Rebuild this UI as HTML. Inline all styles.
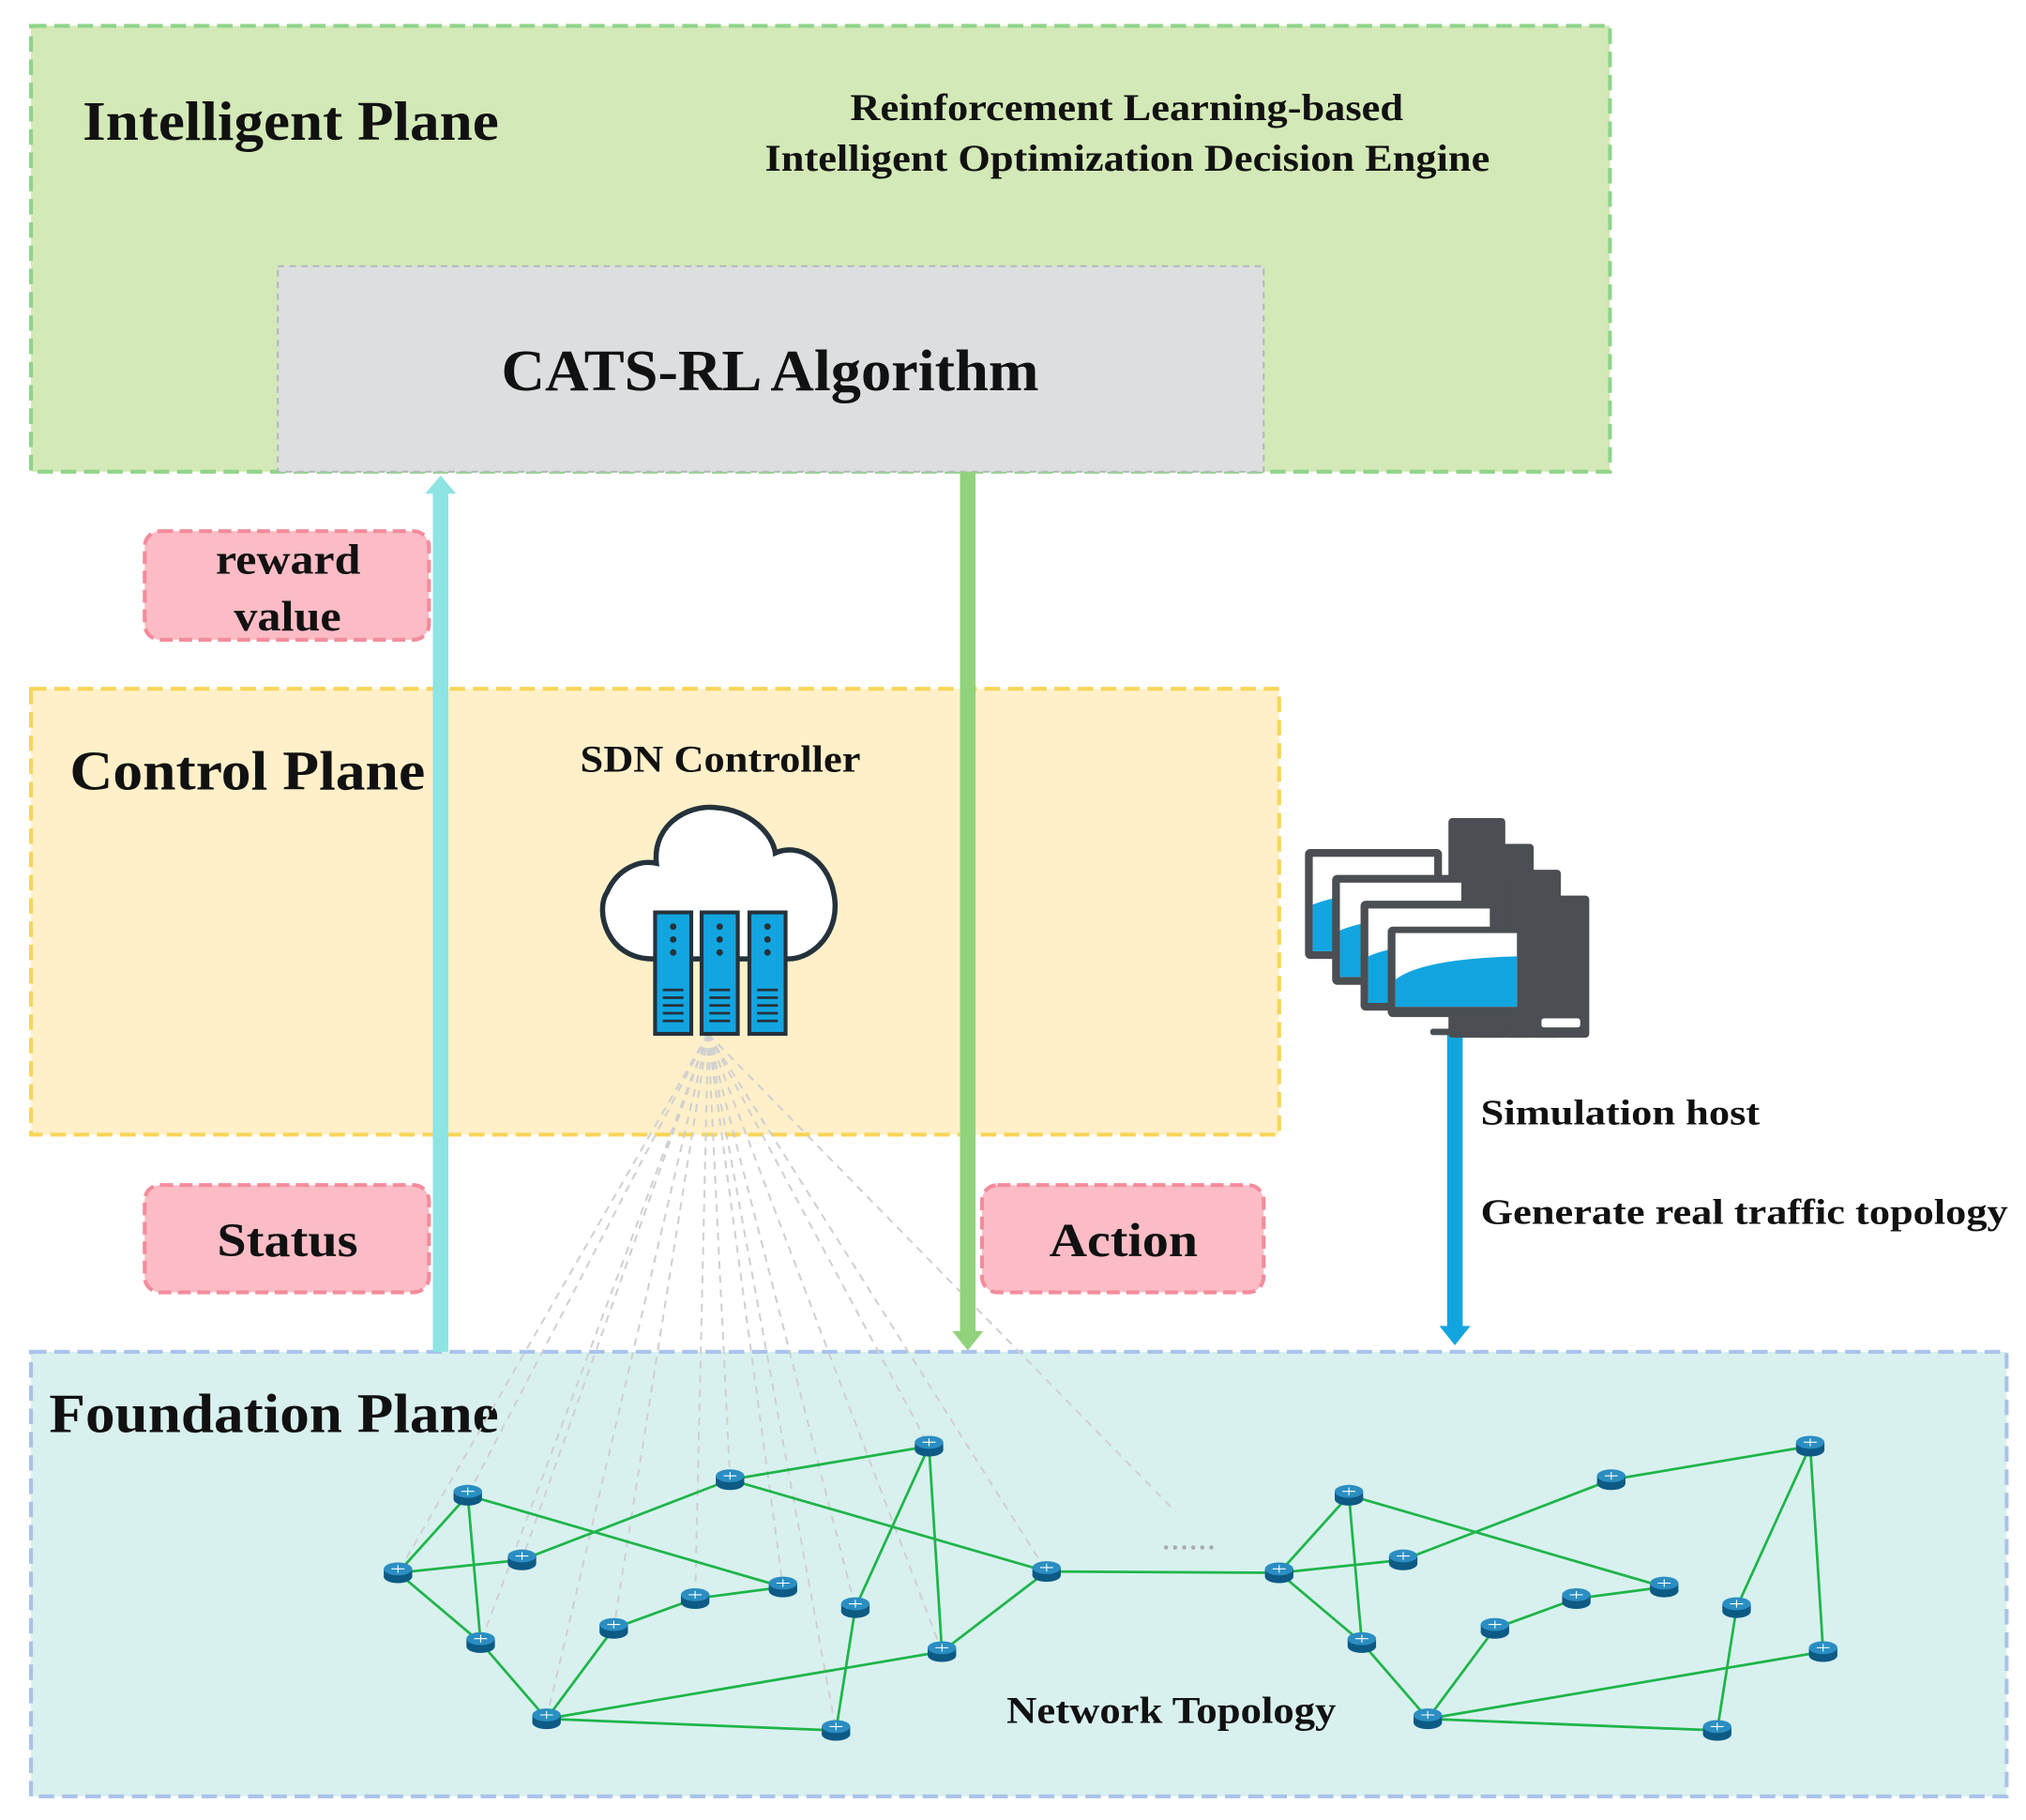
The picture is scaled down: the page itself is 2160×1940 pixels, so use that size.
<!DOCTYPE html>
<html><head><meta charset="utf-8"><style>
html,body{margin:0;padding:0;background:#fff;}
svg{display:block;}
text{font-family:"Liberation Serif",serif;font-weight:bold;fill:#111;}
</style></head><body>
<svg width="2160" height="1940" viewBox="0 0 1568 1408.3" xmlns="http://www.w3.org/2000/svg">
<defs>
<g id="rt"><ellipse cx="0" cy="3" rx="11" ry="5" fill="#0d5a85"/><rect x="-11" y="-3" width="22" height="6" fill="#0d5a85"/><ellipse cx="0" cy="-3" rx="11" ry="5" fill="#2b8ec2"/><path d="M-5,-3 h10 M0,-6 v6" stroke="#fff" stroke-width="0.8"/></g>
</defs>
<rect x="24" y="20" width="1222" height="345" fill="#d3e9b7" stroke="#8fd48a" stroke-width="3" stroke-dasharray="12,6"/>
<rect x="215" y="206" width="763" height="159" fill="#dcdee0" stroke="#b5b8bb" stroke-width="1.5" stroke-dasharray="5,4"/>
<text x="64" y="108" font-size="43" textLength="322" lengthAdjust="spacingAndGlyphs">Intelligent Plane</text>
<text x="658" y="93" font-size="29" textLength="428" lengthAdjust="spacingAndGlyphs">Reinforcement Learning-based</text>
<text x="592" y="132" font-size="29" textLength="561" lengthAdjust="spacingAndGlyphs">Intelligent Optimization Decision Engine</text>
<text x="388" y="302" font-size="45" textLength="416" lengthAdjust="spacingAndGlyphs">CATS-RL Algorithm</text>
<rect x="24" y="533" width="966" height="345" fill="#fff0c9" stroke="#f8d558" stroke-width="3" stroke-dasharray="12,6"/>
<text x="54" y="611" font-size="43" textLength="275" lengthAdjust="spacingAndGlyphs">Control Plane</text>
<text x="449" y="597" font-size="29" textLength="217" lengthAdjust="spacingAndGlyphs">SDN Controller</text>
<rect x="24" y="1046" width="1529" height="344" fill="#d8f1ef" stroke="#a9c3ea" stroke-width="3" stroke-dasharray="12,6"/>
<text x="38" y="1108" font-size="43" textLength="348" lengthAdjust="spacingAndGlyphs">Foundation Plane</text>
<text x="779" y="1333" font-size="29" textLength="255" lengthAdjust="spacingAndGlyphs">Network Topology</text>
<g stroke="#d0d0d0" stroke-width="1.5" stroke-dasharray="6,5" fill="none">
<path d="M548,800 L308,1217 M548,800 L362,1157 M548,800 L404,1207 M548,800 L372,1271 M548,800 L475,1260 M548,800 L423,1330 M548,800 L565,1145 M548,800 L538,1237 M548,800 L606,1228 M548,800 L662,1244 M548,800 L719,1119 M548,800 L729,1278 M548,800 L647,1339 M548,800 L810,1216 M548,800 L910,1170"/>
</g>
<text x="900" y="1199" font-size="20" style="fill:#aaa;letter-spacing:2px">......</text>
<rect x="335" y="380" width="12" height="666" fill="#8ee4e2"/>
<path d="M329,382 L341,368 L353,382 z" fill="#8ee4e2"/>
<rect x="743" y="365" width="12" height="668" fill="#92d27c"/>
<path d="M737,1030 L749,1045 L761,1030 z" fill="#92d27c"/>
<rect x="1120" y="800" width="12" height="228" fill="#12a5e0"/>
<path d="M1114,1026 L1126,1041 L1138,1026 z" fill="#12a5e0"/>
<g fill="#fbbcc5" stroke="#f38c9c" stroke-width="3" stroke-dasharray="10,5">
<rect x="112" y="411" width="220" height="84" rx="12"/>
<rect x="112" y="917" width="220" height="83" rx="12"/>
<rect x="760" y="917" width="218" height="83" rx="12"/>
</g>
<text x="167" y="444" font-size="33" textLength="112" lengthAdjust="spacingAndGlyphs">reward</text>
<text x="181" y="488" font-size="33" textLength="83" lengthAdjust="spacingAndGlyphs">value</text>
<text x="168" y="972" font-size="37" textLength="109" lengthAdjust="spacingAndGlyphs">Status</text>
<text x="812" y="972" font-size="37" textLength="115" lengthAdjust="spacingAndGlyphs">Action</text>
<text x="1146" y="870" font-size="28" textLength="216" lengthAdjust="spacingAndGlyphs">Simulation host</text>
<text x="1146" y="947" font-size="28" textLength="408" lengthAdjust="spacingAndGlyphs">Generate real traffic topology</text>
<path d="M505,742 C470,742 460,705 470,690 C478,672 495,665 508,668 C505,640 530,622 555,625 C580,627 598,645 600,660 C618,652 640,665 645,690 C652,720 630,742 610,742 Z" fill="#fff" stroke="#25323b" stroke-width="4"/>
<g stroke="#25323b" stroke-width="3" fill="#12a5e0">
<rect x="507" y="706" width="28" height="94"/><rect x="543" y="706" width="28" height="94"/><rect x="580" y="706" width="28" height="94"/>
</g>
<g fill="#25323b">
<circle cx="521" cy="717" r="2.5"/><circle cx="521" cy="727" r="2.5"/><circle cx="521" cy="737" r="2.5"/>
<circle cx="557" cy="717" r="2.5"/><circle cx="557" cy="727" r="2.5"/><circle cx="557" cy="737" r="2.5"/>
<circle cx="594" cy="717" r="2.5"/><circle cx="594" cy="727" r="2.5"/><circle cx="594" cy="737" r="2.5"/>
<rect x="513" y="765" width="16" height="2"/><rect x="513" y="771" width="16" height="2"/><rect x="513" y="777" width="16" height="2"/><rect x="513" y="783" width="16" height="2"/><rect x="513" y="789" width="16" height="2"/>
<rect x="549" y="765" width="16" height="2"/><rect x="549" y="771" width="16" height="2"/><rect x="549" y="777" width="16" height="2"/><rect x="549" y="783" width="16" height="2"/><rect x="549" y="789" width="16" height="2"/>
<rect x="586" y="765" width="16" height="2"/><rect x="586" y="771" width="16" height="2"/><rect x="586" y="777" width="16" height="2"/><rect x="586" y="783" width="16" height="2"/><rect x="586" y="789" width="16" height="2"/>
</g>
<g fill="#4b4e52">
<rect x="1121" y="633" width="44" height="170" rx="3"/>
<rect x="1143" y="653" width="44" height="150" rx="3"/>
<rect x="1165" y="673" width="43" height="130" rx="3"/>
<rect x="1186" y="693" width="44" height="110" rx="3"/>
</g>
<rect x="1193" y="788" width="30" height="7" rx="2" fill="#fff"/>
<g>
<rect x="1010" y="657" width="106" height="85" rx="4" fill="#4b4e52"/><rect x="1016" y="663" width="94" height="73" fill="#fff"/><path d="M1016,700 Q1040,690 1110,686 V736 H1016Z" fill="#12a5e0"/>
<rect x="1031" y="677" width="106" height="85" rx="4" fill="#4b4e52"/><rect x="1037" y="683" width="94" height="73" fill="#fff"/><path d="M1037,720 Q1060,710 1131,706 V756 H1037Z" fill="#12a5e0"/>
<rect x="1053" y="697" width="106" height="85" rx="4" fill="#4b4e52"/><rect x="1059" y="703" width="94" height="73" fill="#fff"/><path d="M1059,740 Q1080,730 1153,726 V776 H1059Z" fill="#12a5e0"/>
<rect x="1074" y="717" width="106" height="70" rx="4" fill="#4b4e52"/><rect x="1080" y="722" width="94" height="57" fill="#fff"/><path d="M1080,758 Q1100,742 1174,740 V779 H1080Z" fill="#12a5e0"/>
<rect x="1125" y="787" width="6" height="11" fill="#4b4e52"/><rect x="1107" y="796" width="42" height="5" rx="2" fill="#4b4e52"/>
</g>
<g stroke="#1fb54a" stroke-width="2" fill="none">
<path d="M308,1217 L362,1157 M308,1217 L404,1207 M308,1217 L372,1271 M362,1157 L372,1271 M362,1157 L606,1228 M404,1207 L565,1145 M372,1271 L423,1330 M475,1260 L423,1330 M475,1260 L538,1237 M538,1237 L606,1228 M423,1330 L729,1278 M423,1330 L647,1339 M647,1339 L662,1244 M662,1244 L719,1119 M719,1119 L729,1278 M565,1145 L810,1216 M565,1145 L719,1119 M810,1216 L729,1278 M810,1216 L990,1217"/>
<path transform="translate(682,0)" d="M308,1217 L362,1157 M308,1217 L404,1207 M308,1217 L372,1271 M362,1157 L372,1271 M362,1157 L606,1228 M404,1207 L565,1145 M372,1271 L423,1330 M475,1260 L423,1330 M475,1260 L538,1237 M538,1237 L606,1228 M423,1330 L729,1278 M423,1330 L647,1339 M647,1339 L662,1244 M662,1244 L719,1119 M719,1119 L729,1278 M565,1145 L719,1119"/>
</g>
<g id="nodesL">
<use href="#rt" x="308" y="1217"/><use href="#rt" x="362" y="1157"/><use href="#rt" x="404" y="1207"/><use href="#rt" x="372" y="1271"/><use href="#rt" x="475" y="1260"/><use href="#rt" x="423" y="1330"/><use href="#rt" x="565" y="1145"/><use href="#rt" x="538" y="1237"/><use href="#rt" x="606" y="1228"/><use href="#rt" x="662" y="1244"/><use href="#rt" x="719" y="1119"/><use href="#rt" x="729" y="1278"/><use href="#rt" x="647" y="1339"/>
</g>
<use href="#nodesL" x="682" y="0"/>
<use href="#rt" x="810" y="1216"/>
</svg>
</body></html>
